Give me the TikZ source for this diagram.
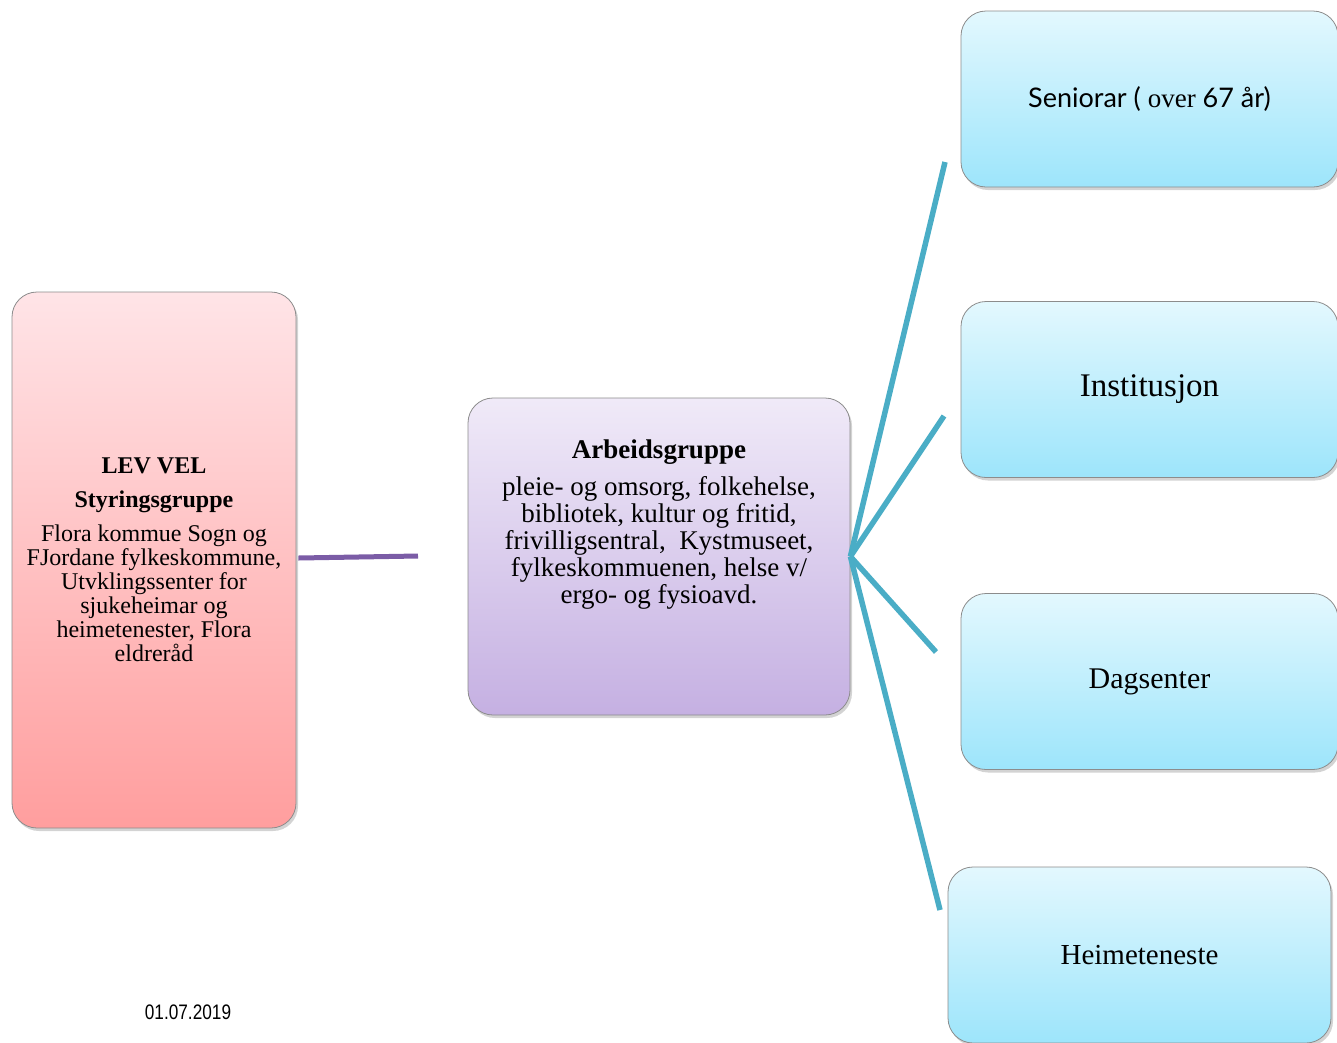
\documentclass[tikz,border=0pt]{standalone}
\usepackage{fontspec}
\setmainfont{Liberation Serif}
\setsansfont{Lato}
\newfontfamily\datefont{Liberation Sans}
\usetikzlibrary{shadows}
\definecolor{styrtop}{HTML}{FFE4E7}
\definecolor{styrbot}{HTML}{FF9E9E}
\definecolor{arbtop}{HTML}{F0EAF8}
\definecolor{arbbot}{HTML}{C5B0E2}
\definecolor{omrtop}{HTML}{E3F8FE}
\definecolor{omrbot}{HTML}{9DE5FB}
\definecolor{linjeblaa}{HTML}{4AADC6}
\definecolor{linjelilla}{HTML}{7B5CA6}

\begin{document}
\begin{tikzpicture}[x=1pt,y=-1pt]
    \tikzstyle{boks}=[rectangle, rounded corners=25pt, draw=black!45, line width=0.8pt, align=center, inner sep=0pt,
      drop shadow={opacity=0.35, shadow xshift=2pt, shadow yshift=-3pt}]
    \tikzstyle{styr}=[boks, top color=styrtop, bottom color=styrbot, minimum width=284pt, minimum height=536pt,
      font=\fontsize{24}{24}\selectfont]
    \tikzstyle{arb}=[boks, top color=arbtop, bottom color=arbbot, minimum width=382pt, minimum height=317pt]
    \tikzstyle{omr}=[boks, top color=omrtop, bottom color=omrbot, minimum width=377pt, minimum height=176pt,
      font=\fontsize{29}{32}\selectfont]
    \tikzstyle{grein}=[linjeblaa, line width=5.5pt]
    \useasboundingbox (0,0) rectangle (1337,1042);
    % styringsgruppa
    \node[styr] (styr) at (154,560) {\textbf{LEV VEL}\\[10pt]
      \textbf{Styringsgruppe}\\[10pt]
      Flora kommue Sogn og\\ FJordane fylkeskommune,\\ Utvklingssenter for\\ sjukeheimar og\\
      heimetenester, Flora\\ eldreråd};
    % arbeidsgruppa
    \node[arb] (arb) at (659,556.5) {};
    \node[align=center, font=\fontsize{27}{27}\selectfont, anchor=north] (arbtekst) at (659,436)
      {\textbf{Arbeidsgruppe}\\[10pt]
      pleie- og omsorg, folkehelse,\\ bibliotek, kultur og fritid,\\ frivilligsentral,~ Kystmuseet,\\
      fylkeskommuenen, helse v/\\ ergo- og fysioavd.};
    % omraade
    \node[omr, font=\fontsize{27}{30}\selectfont] (senior) at (1149.5,99) {\sffamily Seniorar ( {\rmfamily over} 67 år)};
    \node[omr, font=\fontsize{33}{36}\selectfont] (inst) at (1149.5,389.5) {Institusjon};
    \node[omr, font=\fontsize{30}{33}\selectfont] (dag) at (1149.5,681.5) {Dagsenter};
    \node[omr, minimum width=383pt] (heime) at (1139.5,955) {Heimeteneste};
    \node[font=\datefont\fontsize{21}{24}\selectfont] (dato) at (188,1012) {\scalebox{0.82}[1]{01.07.2019}};
    % linjer
    \coordinate (lilla) at (418,556);
    \coordinate (g1) at (945,162);
    \coordinate (g2) at (944,416);
    \coordinate (g3) at (936,652);
    \coordinate (g4) at (940,910);
    \draw[linjelilla, line width=5pt] (styr.east) ++(2,-2) -- (lilla);
    \foreach \g in {g1,g2,g3,g4}
      \draw[grein] (arb.east) -- (\g);
\end{tikzpicture}
\end{document}
